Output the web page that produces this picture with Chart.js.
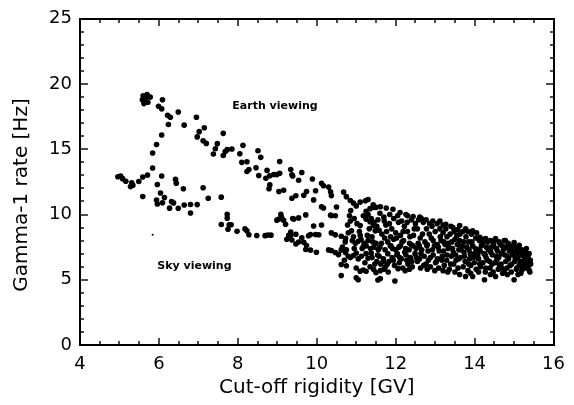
<!DOCTYPE html>
<html>
<head>
<meta charset="utf-8">
<title>Gamma-1 rate vs cut-off rigidity</title>
<script src="https://cdn.jsdelivr.net/npm/chart.js@4.4.1/dist/chart.umd.min.js"></script>
<style>
    html, body { margin: 0; padding: 0; background: #fff; }
    #chart { display: block; }
</style>
</head>
<body>
<canvas id="chart" width="574" height="405"></canvas>
<script>
// ===========================================================================
// Gamma-1 count rate against geomagnetic cut-off rigidity
// - Scatter points kept as [rigidity GV, rate Hz] pairs, one list per region
// - IDL-style frame: box on all four sides, ticks pointing inward
// ===========================================================================

// ---- Data ----------------------------------------------------------------
const xTickValues = [4, 6, 8, 10, 12, 14, 16];
const yTickValues = [0, 5, 10, 15, 20, 25];

// upper (Earth viewing) track, 5.5 - 11.3 GV
const earthTrack = [
    [5.60, 19.1], [5.70, 19.2], [5.78, 19.0], [5.58, 18.8], [5.62, 18.5], [5.72, 18.6], [5.66, 18.9],
    [6.09, 18.8], [5.99, 18.3], [6.07, 18.1], [6.22, 17.6], [6.29, 17.45], [6.49, 17.85], [6.24, 16.9],
    [6.64, 16.85], [6.95, 17.45], [7.15, 16.65], [7.02, 16.35], [6.97, 15.95], [7.12, 15.65], [7.20, 15.45],
    [7.63, 16.22], [7.48, 15.43], [7.43, 15.04], [7.38, 14.64], [7.68, 14.83], [7.63, 14.52], [7.73, 14.97],
    [7.85, 15.02], [8.13, 15.3], [8.05, 14.66], [8.10, 14.0], [8.23, 14.05], [8.23, 13.3], [8.28, 13.45],
    [8.51, 14.89], [8.58, 14.38], [8.46, 13.59], [8.53, 12.99], [8.71, 12.78], [8.74, 13.38], [8.81, 12.97],
    [8.91, 13.07], [8.99, 13.06], [9.06, 13.16], [9.06, 14.06], [9.34, 13.45], [9.37, 13.05], [8.81, 12.27],
    [8.79, 11.97], [9.04, 11.76], [9.16, 11.86], [9.37, 11.25], [9.62, 13.22], [9.39, 12.95], [9.54, 12.63],
    [9.89, 12.72], [10.12, 12.4], [10.17, 12.2], [10.30, 12.1], [10.35, 11.75], [10.37, 11.45], [9.97, 11.82],
    [9.74, 11.77], [9.67, 11.47], [9.47, 11.44], [9.92, 11.12], [10.68, 11.72], [10.75, 11.37], [10.85, 11.07],
    [10.93, 10.87], [11.00, 10.66], [11.10, 10.95], [11.23, 11.05], [11.30, 11.15]
];

// lower (Sky viewing) track, 5 - 9.4 GV
const skyTrack = [
    [4.96, 12.9], [5.03, 12.95], [5.08, 12.75], [5.16, 12.55], [5.28, 12.14], [5.31, 12.44], [5.34, 12.24],
    [5.49, 12.53], [5.59, 12.87], [5.71, 13.02], [5.84, 13.56], [5.84, 14.71], [5.94, 15.36], [6.07, 16.1],
    [6.07, 12.95], [5.96, 12.3], [6.42, 12.69], [6.44, 12.39], [6.62, 11.98], [5.59, 11.38], [6.04, 11.65],
    [5.94, 11.11], [5.96, 10.81], [6.14, 11.3], [6.09, 10.9], [6.32, 10.99], [6.37, 10.89], [6.27, 10.49],
    [6.49, 10.48], [6.64, 10.73], [6.80, 10.77], [6.80, 10.12], [6.97, 10.76], [7.12, 12.05], [7.25, 11.25],
    [7.58, 11.33], [7.73, 10.02], [7.73, 9.72], [7.78, 9.22], [7.83, 9.22], [7.58, 9.23], [7.75, 8.87],
    [7.98, 8.71], [8.18, 8.9], [8.23, 8.75], [8.28, 8.45], [8.48, 8.39], [8.69, 8.38], [8.76, 8.43],
    [8.84, 8.42], [9.09, 10.01], [9.11, 9.76], [9.04, 9.66], [9.16, 9.56], [9.21, 9.26], [8.99, 9.57],
    [9.34, 8.65], [9.29, 8.4], [9.24, 8.1], [9.39, 9.7]
];

// scattered points between the two tracks, 9.3 - 10.8 GV
const midScatter = [
    [10.50, 10.58], [10.17, 10.5], [10.12, 10.6], [10.37, 9.9], [10.47, 9.9], [10.35, 9.95], [9.72, 9.97],
    [9.54, 9.74], [9.42, 9.65], [9.92, 9.12], [10.12, 9.2], [9.84, 8.47], [9.97, 8.47], [10.05, 8.45],
    [9.79, 8.37], [9.62, 8.22], [9.47, 8.49], [9.34, 8.39], [9.67, 7.87], [9.74, 7.62], [9.72, 7.32],
    [9.84, 7.27], [9.99, 7.11], [10.30, 7.29], [10.37, 7.24], [10.47, 7.09], [10.55, 6.93], [9.47, 7.74],
    [9.54, 7.89], [9.37, 8.04], [10.37, 8.59], [10.47, 8.44], [10.62, 8.33], [10.73, 8.17]
];

// left end of the dense cloud, 10.6 - 11.6 GV
const cloudLeft = [
    [10.85, 9.5], [10.88, 8.75], [10.93, 8.3], [10.98, 7.8], [10.83, 9.9], [11.10, 9.15], [11.10, 8.4],
    [11.05, 7.95], [11.18, 7.55], [11.25, 10.25], [11.35, 10.45], [11.43, 10.55], [11.50, 10.55], [11.18, 9.9],
    [11.25, 9.65], [11.35, 9.45], [11.43, 9.15], [11.48, 8.75], [10.62, 7.27], [10.73, 7.07], [10.80, 6.8],
    [10.93, 6.85], [11.00, 7.05], [11.13, 6.8], [11.30, 6.65], [11.38, 7.05], [10.62, 6.17], [10.75, 6.07],
    [11.00, 5.9], [11.10, 5.65], [11.18, 5.75], [10.62, 5.32], [11.00, 5.15], [11.05, 5.0], [11.25, 5.65],
    [11.55, 4.98], [11.50, 5.55], [10.65, 7.5], [10.75, 7.3], [10.85, 6.7], [10.95, 7.4], [11.05, 6.6],
    [11.15, 7.4], [11.25, 7.0], [11.40, 6.7], [11.45, 7.5], [11.52, 6.4], [10.70, 6.5], [10.86, 10.3],
    [10.90, 8.0]
];

// upper and lower edges of the dense cloud, 11.4 - 15.4 GV
const cloudEdge = [
    [11.43, 10.75], [11.61, 10.6], [11.76, 10.5], [11.93, 10.4], [12.11, 10.15], [12.26, 10.0], [12.44, 9.85],
    [12.61, 9.8], [12.77, 9.6], [12.94, 9.5], [13.12, 9.5], [13.27, 9.25], [13.45, 9.0], [13.57, 8.85],
    [13.62, 9.15], [13.77, 8.9], [13.95, 8.75], [14.13, 8.25], [14.28, 8.15], [14.53, 8.15], [14.78, 8.0],
    [15.00, 7.85], [15.13, 7.65], [15.26, 7.25], [15.33, 6.9], [15.41, 6.5],
    [11.61, 5.7], [11.81, 5.6], [11.61, 5.1], [11.98, 4.9], [12.06, 5.85], [12.24, 5.7], [12.99, 5.7],
    [13.32, 5.6], [13.62, 5.4], [13.77, 5.25], [13.95, 5.25], [14.25, 5.0], [14.53, 5.25], [14.83, 5.4],
    [15.00, 5.0], [15.20, 5.75], [15.38, 5.75], [14.28, 5.9], [14.63, 6.1]
];

// inner web of the dense cloud
const cloudWeb = [
    [11.30, 10.0], [11.38, 9.7], [11.45, 9.4], [11.52, 9.1], [11.58, 8.8], [11.65, 8.5], [11.72, 8.2],
    [11.80, 7.9], [11.88, 7.6], [11.60, 10.1], [11.70, 9.8], [11.55, 9.6], [11.85, 10.0], [11.95, 9.7],
    [11.75, 9.2], [11.90, 8.9], [12.00, 8.6], [11.95, 8.1], [11.40, 8.3], [11.30, 8.0], [11.25, 7.6],
    [11.50, 7.8], [12.05, 9.9], [12.15, 9.5], [12.22, 9.1], [12.30, 8.7], [12.12, 8.4], [12.20, 8.0],
    [12.35, 7.8], [12.40, 9.6], [12.50, 9.3], [12.55, 8.9], [12.45, 8.4], [12.62, 8.2], [12.70, 9.4],
    [12.78, 8.9], [12.85, 8.5], [12.92, 9.1], [12.95, 8.0], [12.60, 7.6], [12.80, 7.7], [12.30, 9.9],
    [12.65, 9.7], [12.08, 7.5], [13.05, 9.3], [13.12, 8.9], [13.20, 8.6], [13.30, 8.3], [13.15, 8.0],
    [13.25, 7.7], [13.40, 9.1], [13.48, 8.7], [13.55, 8.4], [13.42, 7.9], [13.62, 8.0], [13.70, 8.7],
    [13.78, 8.3], [13.85, 7.9], [13.92, 8.5], [13.68, 7.6], [13.35, 7.5], [13.05, 7.7], [13.95, 7.6],
    [13.20, 9.2], [14.05, 8.6], [14.12, 8.0], [14.20, 7.8], [14.30, 7.5], [14.40, 8.0], [14.48, 7.7],
    [14.55, 7.4], [14.62, 7.9], [14.70, 7.6], [14.85, 7.8], [14.92, 7.5], [15.00, 7.2], [15.08, 7.5],
    [15.15, 7.1], [15.22, 6.9], [15.30, 7.0], [14.75, 8.0], [14.35, 7.3], [14.10, 7.3], [14.95, 6.9],
    [15.35, 6.7], [15.05, 6.8]
];

// dense lower band of the cloud
const cloudBand = [
    [11.62, 6.2], [11.74, 6.0], [11.83, 6.4], [11.97, 6.1], [12.09, 6.3], [12.18, 5.9], [12.31, 6.2],
    [12.42, 6.0], [12.55, 6.4], [12.63, 5.9], [12.77, 6.2], [12.88, 6.0], [13.01, 6.3], [13.09, 5.9],
    [13.23, 6.1], [13.36, 5.8], [13.47, 6.2], [13.58, 5.9], [13.71, 6.0], [13.83, 5.7], [13.90, 6.1],
    [14.04, 5.8], [14.15, 6.0], [14.27, 5.6], [14.39, 5.9], [14.47, 5.6], [14.60, 5.8], [14.71, 5.5],
    [14.82, 5.9], [14.93, 5.6], [15.06, 5.8], [15.17, 5.5], [15.29, 5.9], [15.40, 5.6],
    [11.58, 6.8], [11.69, 6.6], [11.80, 7.0], [11.91, 6.7], [12.03, 6.9], [12.14, 6.6], [12.26, 6.9],
    [12.37, 6.7], [12.49, 7.0], [12.60, 6.6], [12.72, 6.8], [12.83, 6.5], [12.95, 6.9], [13.06, 6.6],
    [13.18, 6.8], [13.29, 6.5], [13.41, 6.8], [13.53, 6.5], [13.64, 6.7], [13.76, 6.4], [13.87, 6.6],
    [13.99, 6.3], [14.10, 6.6], [14.21, 6.3], [14.33, 6.5], [14.44, 6.2], [14.56, 6.5], [14.67, 6.2],
    [14.79, 6.4], [14.90, 6.1], [15.02, 6.4], [15.13, 6.1], [15.25, 6.3], [15.36, 6.1],
    [11.60, 7.5], [11.73, 7.3], [11.86, 7.6], [12.00, 7.3], [12.12, 7.6], [12.25, 7.4], [12.39, 7.7],
    [12.52, 7.4], [12.66, 7.3], [12.79, 7.6], [12.93, 7.3], [13.08, 7.5], [13.21, 7.2], [13.33, 7.4],
    [13.46, 7.1], [13.60, 7.3], [13.73, 7.1], [13.86, 7.3], [14.00, 7.0], [14.14, 7.2], [14.27, 6.9],
    [14.41, 7.1], [14.55, 6.8], [14.68, 7.0], [14.82, 6.8], [14.96, 7.0], [15.10, 6.7], [15.24, 6.8]
];

// extra points filling the gaps of the cloud
const cloudFill = [
    [10.72, 7.9], [10.80, 8.6], [10.78, 9.2], [10.95, 9.7], [11.02, 9.3], [11.08, 8.7], [11.12, 8.1],
    [11.20, 7.8], [11.28, 8.4], [11.33, 8.9], [11.36, 7.4], [11.42, 7.9], [11.47, 6.2], [11.54, 6.9],
    [11.56, 7.3], [11.64, 7.8], [11.68, 6.4], [11.71, 9.5], [11.77, 8.7], [11.79, 6.2], [11.84, 9.3],
    [11.87, 8.3], [11.92, 7.4], [11.94, 6.5], [12.02, 8.2], [12.04, 7.0], [12.07, 9.4], [12.10, 6.7],
    [12.16, 7.9], [12.19, 8.7], [12.23, 7.1], [12.28, 6.5], [12.29, 9.4], [12.34, 7.3], [12.36, 8.3],
    [12.41, 6.4], [12.44, 7.6], [12.47, 8.9], [12.52, 6.7], [12.57, 7.8], [12.58, 9.6], [12.64, 7.0],
    [12.68, 8.5], [12.71, 6.1], [12.74, 7.9], [12.82, 7.2], [12.86, 9.3], [12.88, 6.7], [12.90, 8.2],
    [12.98, 7.6], [13.00, 8.7], [13.03, 6.4], [13.10, 7.2], [13.13, 8.3], [13.17, 6.5], [13.22, 7.9],
    [13.27, 8.9], [13.30, 6.9], [13.33, 7.8], [13.38, 8.5], [13.39, 6.2], [13.44, 7.4], [13.50, 8.1],
    [13.52, 6.9], [13.56, 7.7], [13.60, 6.6], [13.63, 8.5], [13.66, 7.3], [13.72, 7.9], [13.74, 6.8],
    [13.80, 7.5], [13.83, 8.7], [13.85, 6.2], [13.89, 7.0], [13.93, 7.9], [13.97, 6.7], [14.02, 7.4],
    [14.03, 8.2], [14.08, 6.9], [14.13, 6.2], [14.17, 7.6], [14.22, 8.1], [14.24, 7.0], [14.29, 6.7],
    [14.33, 7.9], [14.38, 6.4], [14.43, 7.5], [14.45, 6.9], [14.50, 8.0], [14.52, 6.3], [14.58, 7.2],
    [14.61, 6.7], [14.65, 7.7], [14.69, 5.9], [14.73, 7.3], [14.77, 6.9], [14.80, 7.5], [14.86, 6.6],
    [14.88, 7.2], [14.94, 6.2], [14.98, 7.6], [15.03, 6.6], [15.07, 5.9], [15.10, 7.1], [15.16, 6.4],
    [15.19, 7.3], [15.23, 6.0], [15.27, 6.6], [15.31, 7.4], [15.34, 6.3], [15.38, 7.0], [15.42, 6.2],
    [11.22, 6.3], [11.35, 6.0], [11.44, 5.8], [11.70, 5.8], [12.35, 5.8], [12.80, 5.8], [13.20, 5.7],
    [13.50, 5.6], [13.90, 5.5], [14.10, 5.6], [14.40, 5.4], [14.75, 5.7], [15.10, 5.4]
];

// a single faint speck left of the sky track
const speck = [[5.84, 8.44]];

// ---- Text ------------------------------------------------------------------
const xTitle = "Cut-off rigidity [GV]";
const yTitle = "Gamma-1 rate [Hz]";
const labels = [
    { text: "Earth viewing", x: 8.94, y: 18.33 },
    { text: "Sky viewing", x: 6.9, y: 6.06 }
];

const FONT = '"DejaVu Sans", "Liberation Sans", sans-serif';
const toXY = (pairs) => pairs.map(([x, y]) => ({ x, y }));

// ---- Frame plugin: closed box, inward ticks, y title, annotations ----------
const framePlugin = {
    id: "frame",
    afterDraw(chart) {
        const { ctx, chartArea: a, scales: { x, y } } = chart;
        const L = Math.round(a.left);
        const R = Math.round(a.right);
        const T = Math.round(a.top);
        const B = Math.round(a.bottom);

        ctx.save();
        ctx.fillStyle = "#000";
        // box drawn as four filled 2px strips
        ctx.fillRect(L - 1, T - 1, R - L + 2, 2);
        ctx.fillRect(L - 1, B - 1, R - L + 2, 2);
        ctx.fillRect(L - 1, T - 1, 2, B - T + 2);
        ctx.fillRect(R - 1, T - 1, 2, B - T + 2);

        // inward ticks, also as filled strips
        // x: minor every 0.5 GV, major every 2 GV
        for (let v = x.min; v <= x.max + 1e-9; v += 0.5) {
            const px = Math.round(x.getPixelForValue(v));
            const len = xTickValues.includes(v) ? 7 : 4;
            ctx.fillRect(px - 0.7, B - len, 1.4, len);
            ctx.fillRect(px - 0.7, T, 1.4, len);
        }
        // y: minor every 1 Hz, major every 5 Hz
        for (let v = y.min; v <= y.max + 1e-9; v += 1) {
            const py = Math.round(y.getPixelForValue(v));
            const len = yTickValues.includes(v) ? 8 : 4;
            ctx.fillRect(L, py - 0.7, len, 1.4);
            ctx.fillRect(R - len, py - 0.7, len, 1.4);
        }

        // y title, centred a little below the middle like the original
        ctx.font = `20px ${FONT}`;
        ctx.textAlign = "center";
        ctx.textBaseline = "middle";
        ctx.translate(22, 195);
        ctx.rotate(-Math.PI / 2);
        ctx.fillText(yTitle, 0, 0);
        ctx.setTransform(1, 0, 0, 1, 0, 0);

        // in-plot labels
        ctx.font = `bold 11px ${FONT}`;
        labels.forEach((l) => ctx.fillText(l.text, x.getPixelForValue(l.x), y.getPixelForValue(l.y)));
        ctx.restore();
    }
};

// ---- Chart -------------------------------------------------------------------
const allPoints = [].concat(earthTrack, skyTrack, midScatter, cloudLeft, cloudEdge, cloudWeb, cloudBand, cloudFill);

new Chart(document.getElementById("chart"), {
    type: "scatter",
    data: {
        datasets: [
            { data: toXY(allPoints), backgroundColor: "#000", borderWidth: 0, pointRadius: 2.8, pointHoverRadius: 2.8 },
            { data: toXY(speck), backgroundColor: "#000", borderWidth: 0, pointRadius: 1 }
        ]
    },
    options: {
        responsive: false,
        animation: false,
        events: [],
        layout: { padding: { top: 15, right: 18, left: 0, bottom: 0 } },
        plugins: { legend: { display: false }, tooltip: { enabled: false } },
        scales: {
            x: {
                type: "linear",
                min: 4,
                max: 16,
                afterBuildTicks: (s) => { s.ticks = xTickValues.map((v) => ({ value: v })); },
                afterFit: (s) => { s.height = 60; },
                grid: { display: false, drawTicks: false },
                border: { display: false },
                ticks: { color: "#000", padding: 9, maxRotation: 0, font: { family: FONT, size: 18 } },
                title: {
                    display: true,
                    text: xTitle,
                    color: "#000",
                    font: { family: FONT, size: 20 },
                    padding: { top: 0, bottom: 5 }
                }
            },
            y: {
                type: "linear",
                min: 0,
                max: 25,
                afterBuildTicks: (s) => { s.ticks = yTickValues.map((v) => ({ value: v })); },
                afterFit: (s) => { s.width = 80; },
                grid: { display: false, drawTicks: false },
                border: { display: false },
                ticks: { color: "#000", padding: 8, font: { family: FONT, size: 18 } }
            }
        }
    },
    plugins: [framePlugin]
});
</script>
</body>
</html>
